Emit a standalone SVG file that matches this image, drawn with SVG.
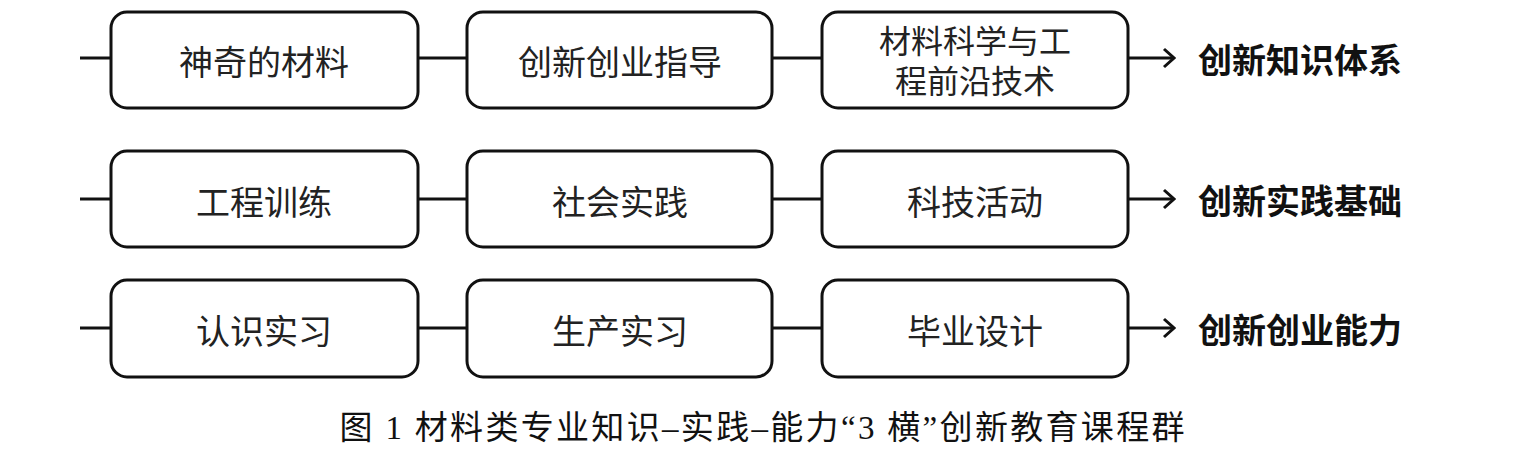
<svg xmlns="http://www.w3.org/2000/svg" width="1523" height="456" viewBox="0 0 1523 456">
<defs>
<style>
.box{fill:#fff;stroke:#111;stroke-width:3}
.t{font-family:"Noto Sans CJK SC","Liberation Sans",sans-serif;font-size:34px;fill:#222;text-anchor:middle;dominant-baseline:central}
.t2{font-family:"Noto Sans CJK SC","Liberation Sans",sans-serif;font-size:32px;fill:#222;text-anchor:middle}
.b{font-family:"Noto Sans CJK SC","Liberation Sans",sans-serif;font-size:34px;font-weight:bold;fill:#111;dominant-baseline:central}
.c{font-family:"Liberation Serif","Noto Sans CJK SC",serif;font-size:33px;fill:#111;text-anchor:middle}
.ln{stroke:#111;stroke-width:3;fill:none}
</style>
<marker id="ah" markerWidth="14" markerHeight="22" refX="12" refY="11" orient="auto" markerUnits="userSpaceOnUse">
<path d="M2,2 L12,11 L2,20" fill="none" stroke="#111" stroke-width="3"/>
</marker>
</defs>
<rect width="1523" height="456" fill="#fff"/>
<g id="connectors">
<line class="ln" x1="80" y1="58" x2="111" y2="58"/>
<line class="ln" x1="418" y1="58" x2="467" y2="58"/>
<line class="ln" x1="772" y1="58" x2="822" y2="58"/>
<line class="ln" x1="1128" y1="58" x2="1174" y2="58" marker-end="url(#ah)"/>
<line class="ln" x1="80" y1="199" x2="111" y2="199"/>
<line class="ln" x1="418" y1="199" x2="467" y2="199"/>
<line class="ln" x1="772" y1="199" x2="822" y2="199"/>
<line class="ln" x1="1128" y1="199" x2="1174" y2="199" marker-end="url(#ah)"/>
<line class="ln" x1="80" y1="328" x2="111" y2="328"/>
<line class="ln" x1="418" y1="328" x2="467" y2="328"/>
<line class="ln" x1="772" y1="328" x2="822" y2="328"/>
<line class="ln" x1="1128" y1="328" x2="1174" y2="328" marker-end="url(#ah)"/>
</g>
<g id="n1"><rect class="box" x="111" y="12" width="307" height="96" rx="16"/><text class="t" x="264" y="60">神奇的材料</text></g>
<g id="n2"><rect class="box" x="467" y="12" width="305" height="96" rx="16"/><text class="t" x="620" y="60">创新创业指导</text></g>
<g id="n3"><rect class="box" x="822" y="12" width="306" height="96" rx="16"/><text class="t2" x="975" y="53"><tspan x="975">材料科学与工</tspan><tspan x="975" dy="40">程前沿技术</tspan></text></g>
<g id="l1"><text class="b" x="1198" y="58">创新知识体系</text></g>
<g id="n4"><rect class="box" x="111" y="151" width="307" height="96" rx="16"/><text class="t" x="264" y="200">工程训练</text></g>
<g id="n5"><rect class="box" x="467" y="151" width="305" height="96" rx="16"/><text class="t" x="620" y="200">社会实践</text></g>
<g id="n6"><rect class="box" x="822" y="151" width="306" height="96" rx="16"/><text class="t" x="975" y="200">科技活动</text></g>
<g id="l2"><text class="b" x="1198" y="199">创新实践基础</text></g>
<g id="n7"><rect class="box" x="111" y="280" width="307" height="97" rx="16"/><text class="t" x="264" y="329">认识实习</text></g>
<g id="n8"><rect class="box" x="467" y="280" width="305" height="97" rx="16"/><text class="t" x="620" y="329">生产实习</text></g>
<g id="n9"><rect class="box" x="822" y="280" width="306" height="97" rx="16"/><text class="t" x="975" y="329">毕业设计</text></g>
<g id="l3"><text class="b" x="1198" y="328">创新创业能力</text></g>
<text class="c" x="762" y="439" textLength="845" lengthAdjust="spacing">图 1  材料类专业知识–实践–能力“3 横”创新教育课程群</text>
</svg>
